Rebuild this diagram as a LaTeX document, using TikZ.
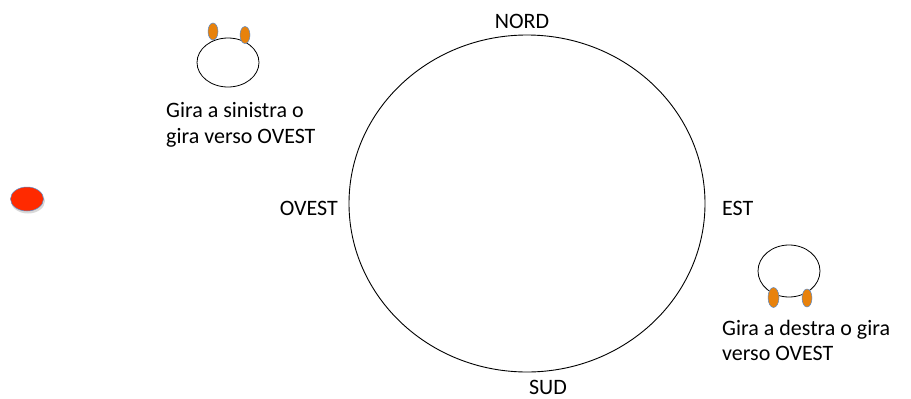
\documentclass[tikz,border=0pt]{standalone}
\usepackage{fontspec}
\setmainfont{Carlito}
\begin{document}
\begin{tikzpicture}[x=1pt,y=-1pt,
  lbl/.style={inner sep=0pt,font=\fontsize{22}{26}\selectfont,text=black},
  head/.style={draw=black,line width=0.8pt}]
\useasboundingbox (0,0) rectangle (911,399);
\definecolor{earc}{HTML}{E8820C}
\definecolor{edgec}{HTML}{5B8BC9}
\definecolor{redc}{HTML}{FF2A00}
% main circle
\draw[line width=0.9pt] (527,203.5) ellipse [x radius=178, y radius=168.5];
\node[lbl,anchor=base] (n) at (522,28) {NORD};
\node[lbl,anchor=base] (s) at (548,394) {SUD};
\node[lbl,anchor=base east] (o) at (338,215) {OVEST};
\node[lbl,anchor=base west] (e) at (722,215) {EST};
% top-left figure
\draw[head] (228,62.5) ellipse [x radius=31, y radius=24.5];
\fill[earc,draw=edgec,line width=0.5pt] (213,31.5) ellipse [x radius=5, y radius=8.5];
\fill[earc,draw=edgec,line width=0.5pt] (245,35) ellipse [x radius=5, y radius=8.5];
\node[lbl,anchor=base west] (t1) at (166,117) {Gira a sinistra o};
\node[lbl,anchor=base west] (t2) at (166,143) {gira verso OVEST};
% bottom-right figure
\draw[head] (789,271) ellipse [x radius=31, y radius=26];
\fill[earc,draw=edgec,line width=0.5pt] (773.5,297.5) ellipse [x radius=5.5, y radius=10];
\fill[earc,draw=edgec,line width=0.5pt] (807,298) ellipse [x radius=5, y radius=9];
\node[lbl,anchor=base west] (t3) at (722,335) {Gira a destra o gira};
\node[lbl,anchor=base west] (t4) at (722,360) {verso OVEST};
% red dot
\fill[black!15] (28,201) ellipse [x radius=17, y radius=12.5];
\fill[redc,draw=edgec,line width=0.5pt] (27,199) ellipse [x radius=16.5, y radius=12];
\end{tikzpicture}
\end{document}
